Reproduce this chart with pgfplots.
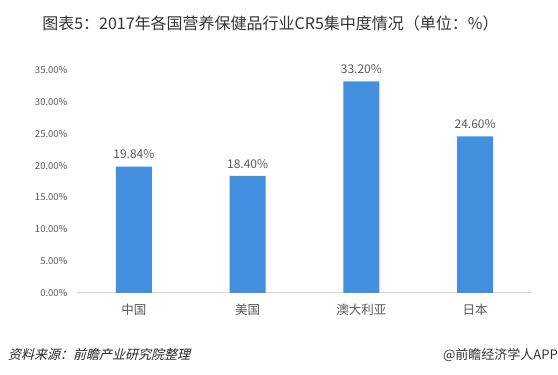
\documentclass[border=0pt]{standalone}
\usepackage{fontspec}
\setmainfont{Noto Sans CJK SC}
\newfontfamily\cjkit[FakeSlant=0.25]{Noto Sans CJK SC}
\usepackage{pgfplots}
\pgfplotsset{compat=1.18}
\definecolor{barblue}{RGB}{66,143,224}
\definecolor{txtgray}{RGB}{89,89,89}
\definecolor{axgray}{RGB}{217,217,217}
\begin{document}
\begin{tikzpicture}[x=1pt,y=1pt]
\useasboundingbox[fill=white] (0,0) rectangle (558,375);
\begin{axis}[
  at={(77pt,82pt)}, anchor=south west,
  scale only axis, width=455pt, height=223pt,
  xmin=-0.5, xmax=3.5, ymin=0, ymax=35,
  ytick={0,5,...,35},
  xtick={0,1,2,3},
  xticklabels={中国,美国,澳大利亚,日本},
  axis lines=left,
  axis line style={-},
  x axis line style={draw=axgray, line width=1pt},
  y axis line style={draw=none},
  major tick length=0pt,
  /pgf/number format/assume math mode=true,
  yticklabel={\pgfmathprintnumber[fixed,fixed zerofill,precision=2]{\tick}\%},
  yticklabel style={font=\fontsize{9.5}{11}\selectfont, text=txtgray, xshift=-6pt},
  xticklabel style={font=\fontsize{12.5}{14}\selectfont, text=txtgray, yshift=-7pt},
  clip=false,
  ]
\addplot[ybar, bar width=36pt, fill=barblue, draw=none,
  nodes near coords={\pgfmathprintnumber[fixed,fixed zerofill,precision=2]{\pgfplotspointmeta}\%},
  every node near coord/.append style={font=\fontsize{12}{14}\selectfont, text=txtgray, yshift=4pt},
  ] coordinates {(0,19.84) (1,18.40) (2,33.20) (3,24.60)};
\end{axis}
\node[font=\fontsize{16}{18}\selectfont, text=black!80] at (270.5,352) {图表5：2017年各国营养保健品行业CR5集中度情况（单位：\%）};
\node[anchor=west, font=\fontsize{13}{15}\selectfont\cjkit, text=black!85, inner sep=0pt] at (8,20) {资料来源：前瞻产业研究院整理};
\node[anchor=east, font=\fontsize{13}{15}\selectfont, text=black!80, inner sep=0pt] at (558,20) {@前瞻经济学人APP};
\end{tikzpicture}
\end{document}
